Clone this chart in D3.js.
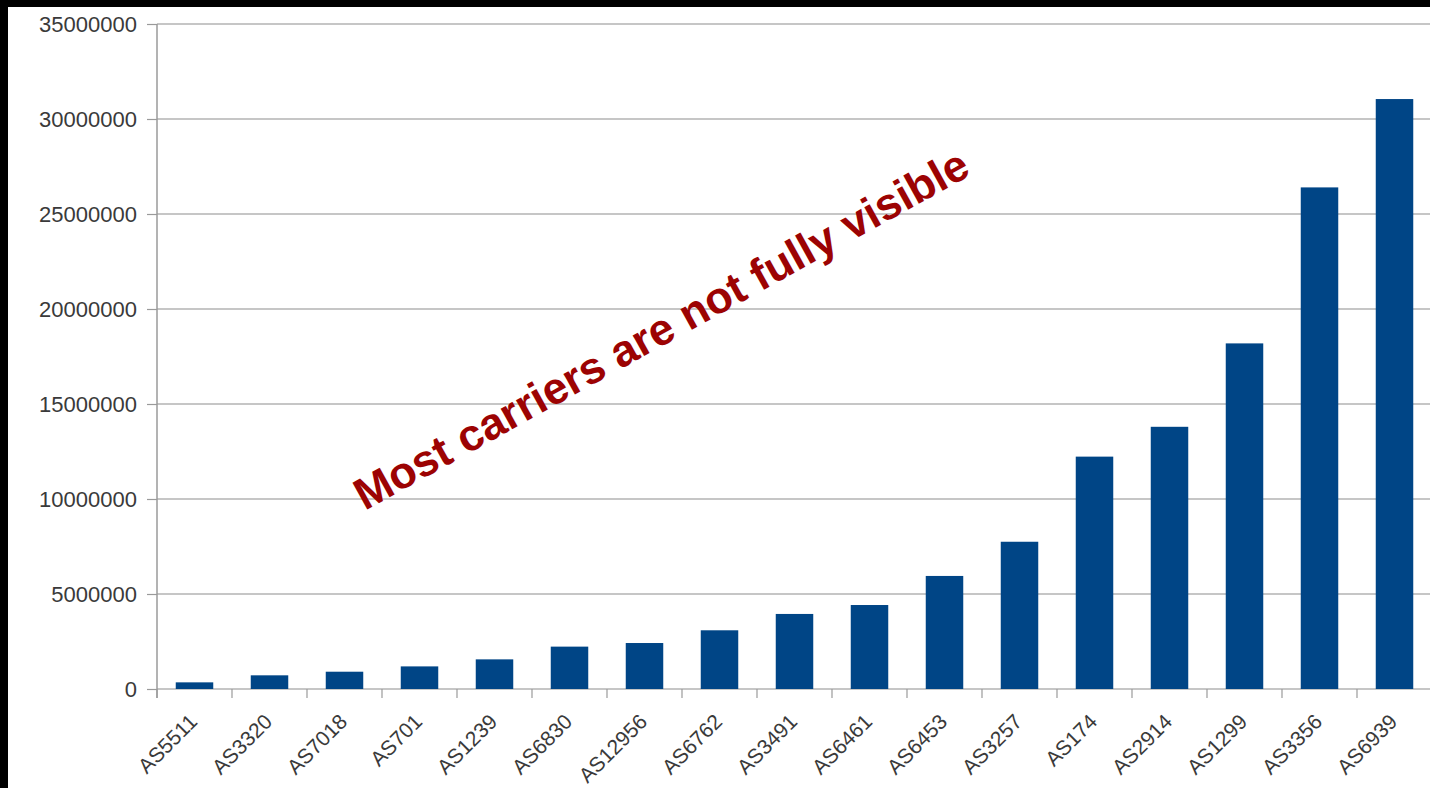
<!DOCTYPE html>
<html>
<head>
<meta charset="utf-8">
<script src="https://cdn.jsdelivr.net/npm/d3@7"></script>
<style>
  body { margin: 0; background: #000; overflow: hidden; }
  svg { display: block; }
  .axis text { font-family: "Liberation Sans", Arial, sans-serif; font-size: 22px; fill: #3a3a3a; }
  .axis text.cat { font-size: 21px; }
</style>
</head>
<body>
<script>
// data
var carriers = ["AS5511", "AS3320", "AS7018", "AS701", "AS1239", "AS6830", "AS12956", "AS6762",
                "AS3491", "AS6461", "AS6453", "AS3257", "AS174", "AS2914", "AS1299", "AS3356", "AS6939"];
var prefixes = [350000, 720000, 910000, 1190000, 1560000, 2230000, 2420000, 3090000,
                3950000, 4420000, 5950000, 7750000, 12230000, 13800000, 18190000, 26400000, 31050000];
var yTicks = [0, 5000000, 10000000, 15000000, 20000000, 25000000, 30000000, 35000000];
var note = "Most carriers are not fully visible";

var w = 1430,
    h = 788;

var margin = {left: 157, right: -2, top: 24, bottom: 99};

var svg = d3.select("body").append("svg")
    .attr("width", w)
    .attr("height", h);

// white page inside the black frame
svg.append("rect")
    .attr("x", 8)
    .attr("y", 7)
    .attr("width", w - 8)
    .attr("height", h - 7)
    .attr("fill", "#fff");

var xScale = d3.scaleBand()
    .domain(carriers)
    .range([margin.left, w - margin.right])
    .paddingInner(0.5)
    .paddingOuter(0.25);

var yScale = d3.scaleLinear()
    .domain([0, 35000000])
    .range([h - margin.bottom, margin.top]);

// gridlines
svg.append("g")
    .selectAll("line")
    .data(yTicks)
  .enter().append("line")
    .attr("x1", margin.left)
    .attr("x2", w - margin.right)
    .attr("y1", function(d) { return yScale(d); })
    .attr("y2", function(d) { return yScale(d); })
    .attr("stroke", "#b3b3b3")
    .attr("stroke-width", 1.5);

// y axis
var yAxis = svg.append("g")
    .attr("class", "axis")
    .attr("transform", "translate(" + margin.left + ",0)")
    .call(d3.axisLeft(yScale).tickValues(yTicks).tickFormat(d3.format("d")).tickSize(10).tickPadding(10));
yAxis.select(".domain").remove();
yAxis.selectAll(".tick line").attr("stroke", "#9a9a9a").attr("stroke-width", 1.2);

svg.append("line")
    .attr("x1", margin.left)
    .attr("x2", margin.left)
    .attr("y1", yScale(35000000))
    .attr("y2", yScale(0) + 9)
    .attr("stroke", "#9a9a9a")
    .attr("stroke-width", 1.5);

// bars
svg.append("g")
    .selectAll("rect")
    .data(carriers)
  .enter().append("rect")
    .attr("x", function(d) { return xScale(d); })
    .attr("width", xScale.bandwidth())
    .attr("y", function(d, i) { return yScale(prefixes[i]); })
    .attr("height", function(d, i) { return yScale(0) - yScale(prefixes[i]); })
    .attr("fill", "#004586");

// x axis ticks at category boundaries
var step = xScale.step();
svg.append("g")
    .selectAll("line")
    .data(carriers)
  .enter().append("line")
    .attr("x1", function(d) { return xScale(d) - step * 0.25; })
    .attr("x2", function(d) { return xScale(d) - step * 0.25; })
    .attr("y1", yScale(0))
    .attr("y2", yScale(0) + 9)
    .attr("stroke", "#9a9a9a")
    .attr("stroke-width", 1.2);

svg.append("g")
    .attr("class", "axis")
    .selectAll("text")
    .data(carriers)
  .enter().append("text")
    .attr("class", "cat")
    .attr("transform", function(d) {
        return "translate(" + (xScale(d) + xScale.bandwidth() / 2 + 4) + "," + (yScale(0) + 34) + ") rotate(-45)";
    })
    .attr("text-anchor", "end")
    .text(function(d) { return d; });

// annotation
svg.append("text")
    .attr("transform", "translate(661,329) rotate(-29)")
    .attr("text-anchor", "middle")
    .attr("dy", "0.35em")
    .attr("font-family", "'Liberation Sans', Arial, sans-serif")
    .attr("font-weight", "bold")
    .attr("font-size", "44.5px")
    .attr("fill", "#9c0303")
    .text(note);
</script>
</body>
</html>
